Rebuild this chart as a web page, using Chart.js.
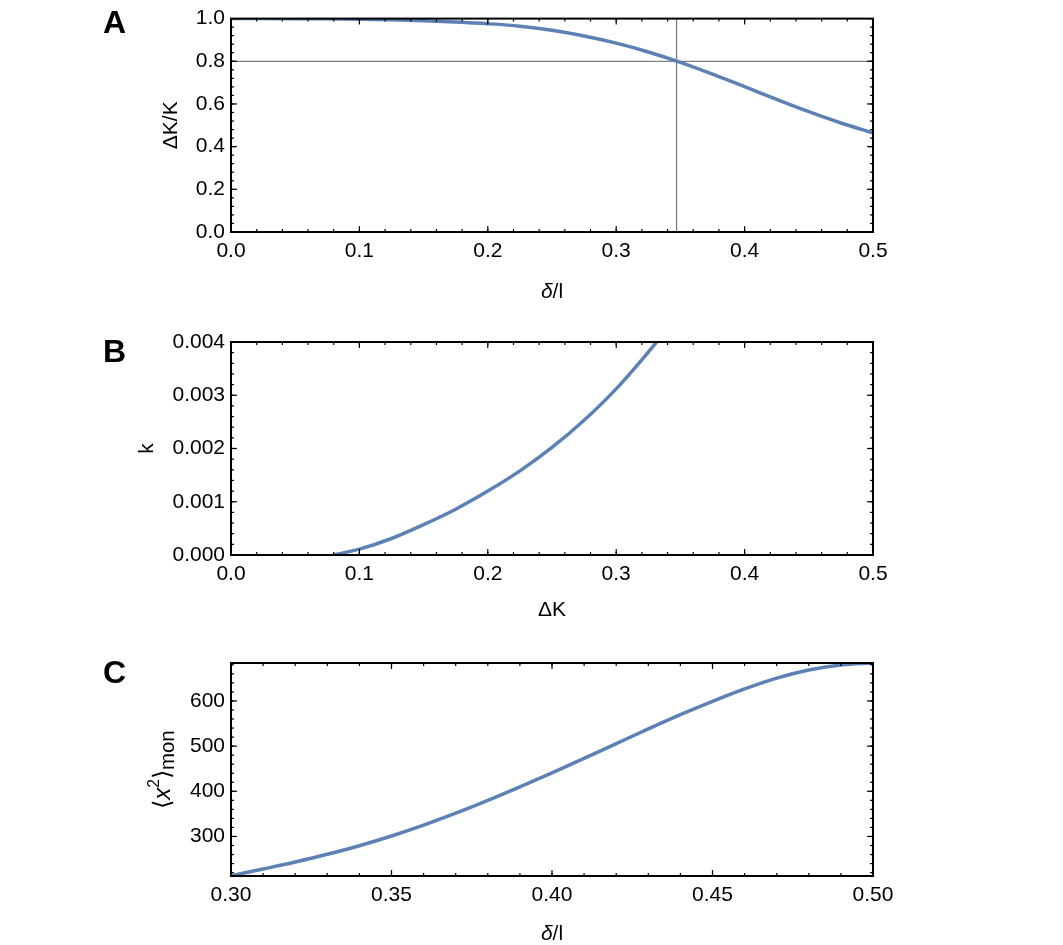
<!DOCTYPE html>
<html><head><meta charset="utf-8">
<script src="https://cdn.jsdelivr.net/npm/chart.js@4.4.1/dist/chart.umd.min.js"></script>
<style>
html,body{margin:0;padding:0;background:#fff;width:1063px;height:945px;overflow:hidden;}
.panel{position:absolute;left:0;width:1063px;}
.lbl{position:absolute;left:103px;font:bold 32px "Liberation Sans",Arial,sans-serif;line-height:32px;color:#000;}
</style></head><body>
<div class="panel" style="top:0;height:318px"><canvas id="ca" width="1063" height="318"></canvas></div>
<div class="panel" style="top:318px;height:322px"><canvas id="cb" width="1063" height="322"></canvas></div>
<div class="panel" style="top:640px;height:305px"><canvas id="cc" width="1063" height="305"></canvas></div>
<div class="lbl" style="top:6px">A</div>
<div class="lbl" style="top:335px">B</div>
<div class="lbl" style="top:656px">C</div>
<script>
// ---------- data ----------
const aX = [0, 0.025, 0.05, 0.075, 0.1, 0.125, 0.15, 0.175, 0.2, 0.225, 0.25, 0.275, 0.3, 0.325, 0.35, 0.375, 0.4, 0.425, 0.45, 0.475, 0.5];
const aY = [1.0, 1.0, 0.9996, 0.9988, 0.997, 0.9942, 0.990, 0.984, 0.976, 0.9645, 0.945, 0.9185, 0.885, 0.8437, 0.795, 0.7397, 0.681, 0.6212, 0.5637, 0.5109, 0.4646];
const aRefX = 0.347;
const aRefY = 0.8;
const aXTicks = [0, 0.1, 0.2, 0.3, 0.4, 0.5];
const aYTicks = [0, 0.2, 0.4, 0.6, 0.8, 1.0];

const bX = [0.08, 0.1, 0.125, 0.15, 0.175, 0.2, 0.225, 0.25, 0.275, 0.3, 0.325, 0.3315];
const bY = [0, 0.00011, 0.00031, 0.00057, 0.00086, 0.0012, 0.00158, 0.00202, 0.00253, 0.00312, 0.00381, 0.004];
const bXTicks = [0, 0.1, 0.2, 0.3, 0.4, 0.5];
const bYTicks = [0, 0.001, 0.002, 0.003, 0.004];

const cX = [0.30, 0.31, 0.32, 0.33, 0.34, 0.35, 0.36, 0.37, 0.38, 0.39, 0.40, 0.41, 0.42, 0.43, 0.44, 0.45, 0.46, 0.47, 0.48, 0.49, 0.50];
const cY = [213, 228, 243.5, 260.5, 279.5, 301, 325, 351.5, 380, 410, 441, 473, 505.5, 538, 569.5, 599, 626.5, 650.5, 668.5, 679.5, 684];
const cXTicks = [0.30, 0.35, 0.40, 0.45, 0.50];
const cYTicks = [300, 400, 500, 600];

// ---------- helpers ----------
const FONT = '"Liberation Sans", Arial, sans-serif';
Chart.defaults.font.family = FONT;
Chart.defaults.font.size = 21;
Chart.defaults.color = '#000';
const BLUE = '#5E81B5';

function pts(xs, ys){ return xs.map((x,i)=>({x:x, y:ys[i]})); }

function drawRich(ctx, segs, cx, cy, rot, size){
  ctx.save();
  ctx.translate(cx, cy);
  if (rot) ctx.rotate(rot);
  let w = 0;
  const m = segs.map(s=>{
    const fs = size*(s.s||1);
    const f = (s.i?'italic ':'') + fs + 'px ' + FONT;
    ctx.font = f;
    const tw = ctx.measureText(s.t).width;
    const o = {f, tw, dy:(s.dy||0)*size, t:s.t, dx:(s.dx||0)*size};
    w += tw + o.dx;
    return o;
  });
  let x = -w/2;
  ctx.fillStyle = '#000';
  ctx.textBaseline = 'alphabetic';
  ctx.textAlign = 'left';
  for (const o of m){
    x += o.dx;
    ctx.font = o.f;
    ctx.fillText(o.t, x, size*0.36 + o.dy);
    x += o.tw;
  }
  ctx.restore();
}

const framePlugin = {
  id: 'frameTicks',
  afterDatasetsDraw(chart, args, o){
    const ctx = chart.ctx, a = chart.chartArea;
    const xs = chart.scales.x, ys = chart.scales.y;
    ctx.save();
    ctx.strokeStyle = '#000';
    ctx.lineWidth = 1.2;
    const seg = (x1,y1,x2,y2)=>{ctx.beginPath();ctx.moveTo(x1,y1);ctx.lineTo(x2,y2);ctx.stroke();};
    const tickX = (v,len)=>{const p=xs.getPixelForValue(v); seg(p,a.bottom,p,a.bottom-len); seg(p,a.top,p,a.top+len);};
    const tickY = (v,len)=>{const p=ys.getPixelForValue(v); seg(a.left,p,a.left+len,p); seg(a.right,p,a.right-len,p);};
    const n1 = Math.round((xs.max - o.x0)/o.xm);
    for (let k=0;k<=n1;k++){ const v=o.x0+k*o.xm; if (v>=xs.min-1e-9 && v<=xs.max+1e-9) tickX(v, 3); }
    const n2 = Math.round((ys.max - o.y0)/o.ym);
    for (let k=0;k<=n2;k++){ const v=o.y0+k*o.ym; if (v>=ys.min-1e-9 && v<=ys.max+1e-9) tickY(v, 3); }
    xs.ticks.forEach(t=>tickX(t.value, 6));
    ys.ticks.forEach(t=>tickY(t.value, 6));
    ctx.lineWidth = 2;
    ctx.strokeRect(a.left, a.top, a.right-a.left, a.bottom-a.top);
    ctx.restore();
    drawRich(ctx, o.xt, (a.left+a.right)/2, a.bottom + o.xtOff, 0, o.xs || 21);
    drawRich(ctx, o.yt, a.left - o.ytOff, (a.top+a.bottom)/2, -Math.PI/2, o.ys || 21);
  }
};

function makeChart(id, p){
  const H = document.getElementById(id).height;
  return new Chart(document.getElementById(id), {
    type: 'line',
    data: { datasets: p.datasets },
    options: {
      responsive: false, animation: false,
      layout: { padding: { left: 0, right: 190, top: p.top, bottom: 0 } },
      plugins: { legend: {display:false}, tooltip: {enabled:false}, frameTicks: p.frame },
      elements: { point: { radius: 0 } },
      scales: {
        x: {
          type: 'linear', min: p.xMin, max: p.xMax,
          grid: { display: false, drawTicks: false }, border: { display: false },
          ticks: { padding: 7, autoSkip: false, maxRotation: 0, font: {size: 21},
                   callback: v => v.toFixed(p.xd) },
          afterBuildTicks: s => { s.ticks = p.xTicks.map(v=>({value:v})); },
          afterFit: s => { s.height = H - p.bottom; }
        },
        y: {
          type: 'linear', min: p.yMin, max: p.yMax,
          grid: { display: false, drawTicks: false }, border: { display: false },
          ticks: { padding: 6, autoSkip: false, font: {size: 21},
                   callback: v => v.toFixed(p.yd) },
          afterBuildTicks: s => { s.ticks = p.yTicks.map(v=>({value:v})); },
          afterFit: s => { s.width = 231; }
        }
      }
    },
    plugins: [framePlugin]
  });
}

const curve = (d)=>({data:d, borderColor:BLUE, borderWidth:3.5, cubicInterpolationMode:'monotone', fill:false, pointRadius:0});
const gray = (d)=>({data:d, borderColor:'#7f7f7f', borderWidth:1.3, fill:false, pointRadius:0, tension:0});

makeChart('ca', {
  top: 18, bottom: 232,
  xMin: 0, xMax: 0.5, yMin: 0, yMax: 1, xd: 1, yd: 1,
  xTicks: aXTicks, yTicks: aYTicks,
  datasets: [
    curve(pts(aX, aY)),
    gray([{x:0,y:aRefY},{x:0.5,y:aRefY}]),
    gray([{x:aRefX,y:0},{x:aRefX,y:1}])
  ],
  frame: { x0:0, xm:0.02, y0:0, ym:0.04,
    xt:[{t:'\u03B4',i:true},{t:'/l'}], xtOff: 58,
    yt:[{t:'\u0394K/K'}], ytOff: 62 }
});

makeChart('cb', {
  top: 24, bottom: 237,
  xMin: 0, xMax: 0.5, yMin: 0, yMax: 0.004, xd: 1, yd: 3,
  xTicks: bXTicks, yTicks: bYTicks,
  datasets: [ curve(pts(bX, bY)) ],
  frame: { x0:0, xm:0.02, y0:0, ym:0.0002,
    xt:[{t:'\u0394K'}], xtOff: 53,
    yt:[{t:'k'}], ytOff: 86 }
});

makeChart('cc', {
  top: 23, bottom: 236,
  xMin: 0.30, xMax: 0.50, yMin: 212.5, yMax: 684, xd: 2, yd: 0,
  xTicks: cXTicks, yTicks: cYTicks,
  datasets: [ curve(pts(cX, cY)) ],
  frame: { x0:0.30, xm:0.01, y0:220, ym:20,
    xt:[{t:'\u03B4',i:true},{t:'/l'}], xtOff: 56,
    yt:[{t:'\u27E8'},{t:'x',i:true},{t:'2',s:0.65,dy:-0.45},{t:'\u27E9'},{t:'mon',s:0.85,dy:0.2}], ytOff: 70, ys: 24 }
});
</script>
</body></html>
